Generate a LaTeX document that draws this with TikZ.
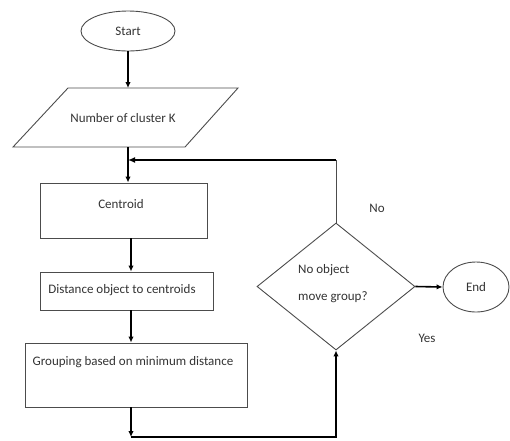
\documentclass[tikz,border=0pt]{standalone}
\usepackage{fontspec}
\setmainfont{Carlito}
\usetikzlibrary{shapes.geometric,arrows.meta}
\begin{document}
\begin{tikzpicture}[x=1pt,y=-1pt,
  every node/.style={font=\fontsize{13}{15}\selectfont, text=black!80},
  boxline/.style={draw=black!70, line width=0.9pt},
  arr/.style={-{Latex[length=6pt,width=5.5pt]}, line width=1.6pt, draw=black},
  thickline/.style={line width=2.4pt, draw=black},
  lbl/.style={inner sep=0pt}]
\useasboundingbox (0,0) rectangle (510,440);
\coordinate (sx) at (131,0);
% Start
\node[boxline, ellipse, minimum width=94, minimum height=40, inner sep=0pt] (start) at (128,31) {Start};
% Parallelogram
\draw[boxline] (68,88) -- (238,88) -- (185,147) -- (13,147) -- cycle;
\node[lbl] (num) at (123,118) {Number of cluster K};
\coordinate (ptop) at (128,88);
\coordinate (pbot) at (128,147);
\coordinate (join) at (128,160);
% Boxes
\node[boxline, minimum width=167, minimum height=55, inner sep=0pt] (cen) at (123.5,210.5) {};
\node[lbl] (centxt) at (121,204) {Centroid};
\node[boxline, minimum width=173, minimum height=38, inner sep=0pt] (dist) at (126.5,291) {};
\node[lbl] (disttxt) at (122,290) {Distance object to centroids};
\node[boxline, minimum width=222, minimum height=64, inner sep=0pt] (grp) at (136,375) {};
\node[lbl] (grptxt) at (133,362) {Grouping based on minimum distance};
% Decision
\node[boxline, diamond, minimum width=158, minimum height=127, inner sep=0pt] (dia) at (336,286.5) {};
\node[lbl, anchor=west] (d1) at (298,270) {No object};
\node[lbl, anchor=west] (d2) at (298,297) {move group?};
% End
\node[boxline, ellipse, minimum width=66, minimum height=50, inner sep=0pt] (end) at (476,287) {End};
% Labels
\node[lbl] (no) at (377,208) {No};
\node[lbl] (yes) at (427,338) {Yes};
% Connectors
\draw[arr] (start.south) -- (ptop);
\draw[line width=1.6pt] (pbot) -- (join);
\draw[arr] (join) -- (cen.north -| join);
\draw[arr] (cen.south -| sx) -- (dist.north -| sx);
\draw[arr] (dist.south -| sx) -- (grp.north -| sx);
\coordinate (bot) at (131,437);
\draw[arr] (grp.south -| sx) -- (bot);
\draw[arr] (bot) -| (dia.south);
\coordinate (loop) at (336,160);
\draw[line width=0.9pt, draw=black!70] (dia.north) -- (loop);
\draw[thickline, -{Latex[length=7pt,width=6pt]}] (loop) -- (join);
\draw[arr] (dia.east) -- (end.west);
\end{tikzpicture}
\end{document}
